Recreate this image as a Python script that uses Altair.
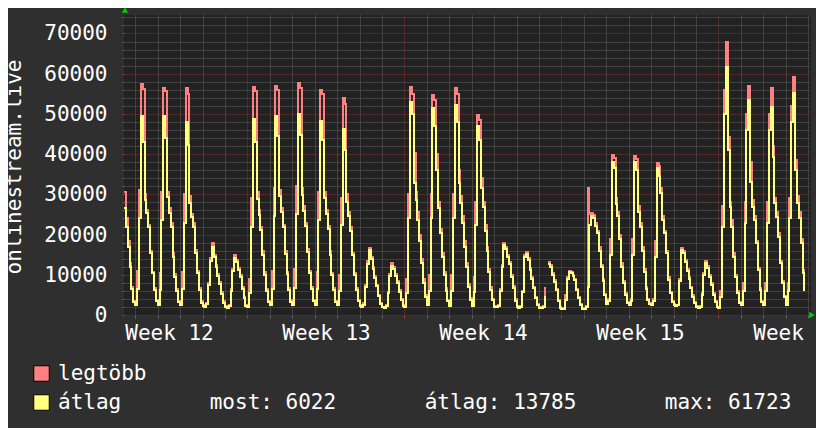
import altair as alt
import pandas as pd

FONT = "DejaVu Sans Mono"

# ---------------- data ----------------
series_names = ["legtöbb", "átlag"]
series_colors = ["#ff8080", "#ffff80"]

# 2-hour samples; hours counted from Monday 00:00 of week 12; first sample Tue 12:00
first_hour = 36
step_hours = 2

legtobb_w12 = [
    30700, 24000, 18500, 13000, 7000, 3600,
    2800, 11000, 31000, 57400, 56200, 30000, 26000, 22500, 16000, 10800, 6800, 3800,
    2700, 10500, 30500, 56400, 55600, 30500, 26500, 22800, 15500, 10300, 6500, 3600,
    2700, 10800, 30000, 56400, 55000, 29500, 25200, 22800, 16200, 11000, 6600, 3500,
    2600, 2300, 3000, 8000, 14200, 17800, 15000, 12500, 10200, 8200, 5600, 3400,
    2300, 2000, 2600, 6500, 11500, 14900, 13800, 11800, 10000, 7000, 4500, 2600,
]
atlag_w12 = [
    26600, 22000, 17000, 12000, 6500, 3200,
    2500, 6500, 24000, 49400, 43100, 28600, 25400, 22000, 15400, 10400, 6200, 3500,
    2400, 6300, 23500, 49500, 44000, 29400, 25400, 21900, 14500, 9400, 6000, 3200,
    2400, 6400, 23000, 48000, 42300, 27800, 24400, 22000, 15400, 10400, 6200, 3000,
    2300, 2100, 2700, 7400, 13500, 17000, 14400, 11900, 9700, 7800, 5200, 3100,
    2000, 1800, 2300, 6000, 11000, 14200, 13200, 11200, 9500, 6500, 4200, 2300,
]
legtobb_w13 = [
    2300, 9000, 29000, 56600, 55800, 30500, 26000, 22000, 15800, 10600, 6500, 3600,
    2800, 11000, 31500, 56900, 56000, 31000, 26500, 22500, 16000, 10800, 6800, 3700,
    2700, 11500, 32000, 57800, 56500, 31500, 27000, 23000, 16500, 11000, 7000, 3800,
    2800, 10800, 30500, 56000, 55000, 30500, 26000, 22200, 15800, 10500, 6600, 3600,
    2700, 10000, 29000, 53900, 52500, 30000, 25500, 21800, 15500, 10500, 6800, 3800,
    2500, 2200, 2900, 7500, 13500, 16700, 14500, 12000, 9800, 7500, 5000, 3000,
    2100, 1900, 2400, 5800, 10200, 12900, 12000, 10200, 8400, 6200, 4000, 2400,
]
atlag_w13 = [
    2000, 5500, 22000, 48700, 43000, 28800, 24800, 21200, 15000, 10000, 6000, 3200,
    2500, 6500, 24500, 49500, 44500, 29500, 25500, 21800, 15200, 10200, 6300, 3300,
    2400, 6800, 25000, 50000, 44800, 29800, 25800, 22200, 15600, 10500, 6500, 3400,
    2500, 6400, 23500, 48200, 43500, 29000, 25000, 21500, 15000, 10000, 6200, 3200,
    2400, 6000, 22500, 46300, 41000, 28200, 24500, 21000, 14800, 10000, 6300, 3400,
    2200, 2000, 2600, 7000, 12800, 16200, 14000, 11500, 9300, 7100, 4700, 2700,
    1900, 1700, 2200, 5400, 9700, 12200, 11400, 9700, 8000, 5800, 3700, 2200,
]
legtobb_w14 = [
    2200, 9000, 30000, 56600, 55000, 40300, 30500, 25500, 20000, 14000, 9000, 5000,
    2600, 10000, 30000, 54700, 53500, 40000, 28000, 21500, 15500, 10800, 6600, 3800,
    2500, 10000, 30000, 56400, 55000, 36000, 29500, 24500, 18500, 13000, 7800, 4200,
    2500, 9500, 28000, 49700, 48500, 34000, 28000, 22500, 17000, 11500, 7000, 4000,
    2300, 2100, 2400, 6500, 12500, 18000, 17000, 15000, 13200, 10000, 7200, 4000,
    2300, 2000, 2300, 6000, 15000, 15700, 14200, 11800, 9500, 7000, 4600, 2800,
    2000, 2000, 2200, 7000, None, 13300, 12500, 10400, 8600, 6500, 3800, 2000,
]
atlag_w14 = [
    2000, 5500, 24000, 53000, 50000, 32800, 28600, 23500, 18500, 13000, 8000, 4500,
    2400, 6000, 24000, 51400, 47000, 36000, 26500, 20500, 14500, 10000, 6000, 3400,
    2300, 6000, 24000, 52200, 48000, 32800, 27800, 22900, 17000, 12000, 7000, 3800,
    2300, 5800, 22500, 47000, 43500, 31500, 26900, 21000, 15800, 10800, 6300, 3700,
    2000, 1900, 2200, 6000, 12000, 17400, 16400, 14400, 12700, 9500, 6800, 3600,
    2000, 1800, 2100, 5600, 14500, 15200, 13700, 11300, 9000, 6600, 4300, 2500,
    1800, 1800, 2000, 4800, None, 12800, 12000, 10000, 8200, 6100, 3500, 1800,
]
legtobb_w15 = [
    1800, 1700, 5000, 9500, 11000, 10800, 10000, 9000, 6500, 4600, 2700, 1800,
    1800, 2200, 31600, 25000, 25400, 24800, 23000, 21000, 16800, 12500, 9000, 5300,
    3000, 4000, 19000, 39800, 39000, 29000, 25500, 20000, 13000, 8500, 5500, 3300,
    2600, 4000, 19000, 39600, 38800, 27000, 23000, 17000, 11500, 7000, 4000, 3000,
    2700, 4000, 18500, 37900, 37000, 31500, 24500, 21000, 16000, 9500, 5800, 3500,
    2700, 2400, 2600, 9000, 16600, 16000, 13700, 11500, 9500, 7000, 5000, 3200,
    2200, 2000, 2200, 5500, 10500, 13500, 12200, 10000, 8000, 5500, 3500, 2100,
]
atlag_w15 = [
    1600, 1500, 3800, 9000, 10600, 10400, 9600, 8600, 6100, 4300, 2500, 1600,
    1600, 2000, 7000, 22400, 24600, 24000, 22200, 20400, 16000, 12000, 8500, 5000,
    2700, 3500, 15000, 38100, 36500, 27500, 24500, 19000, 12000, 8000, 5000, 3000,
    2400, 3400, 15000, 38100, 36000, 25500, 22000, 16000, 10800, 6500, 3700, 2700,
    2500, 3400, 14500, 36500, 34500, 30300, 23600, 20400, 15400, 8700, 5400, 3200,
    2400, 2200, 2400, 8500, 16200, 15500, 13200, 11000, 9000, 6600, 4600, 2900,
    2000, 1800, 2000, 5000, 10000, 12900, 11700, 9500, 7500, 5000, 3200, 1900,
]
legtobb_w16 = [
    2000, 6000, 27000, 56000, 68000, 44300, 28000, 23500, 15500, 10000, 6000, 3300,
    2800, 8000, 28000, 50000, 56900, 38000, 28500, 24500, 18500, 11800, 6800, 3500,
    2600, 8000, 28000, 50000, 56400, 42000, 29000, 25500, 20500, 13500, 8500, 4800,
    2600, 8000, 29000, 52000, 59300, 38500, 29500, 25500, 19000, 11200, 6600,
]
atlag_w16 = [
    1800, 4500, 22000, 50000, 61723, 41000, 26900, 22000, 14500, 9500, 5400, 3000,
    2600, 6000, 23000, 46000, 53500, 33000, 26900, 23600, 17800, 11200, 6200, 3200,
    2400, 6000, 23000, 46000, 51800, 39400, 27800, 24400, 19500, 12900, 8000, 4500,
    2400, 6000, 24000, 48000, 55100, 36000, 27800, 24000, 17900, 10400, 6022,
]

stat_labels = ["most", "átlag", "max"]
stat_values = [6022, 13785, 61723]

week_labels = ["Week 12", "Week 13", "Week 14", "Week 15", "Week 16"]
week_label_hours = [84, 252, 420, 588, 756]

x_domain = [36, 770]
y_domain = [0, 74600]

# ---------------- table ----------------
legtobb = legtobb_w12 + legtobb_w13 + legtobb_w14 + legtobb_w15 + legtobb_w16
atlag = atlag_w12 + atlag_w13 + atlag_w14 + atlag_w15 + atlag_w16
hours = [first_hour + step_hours * i for i in range(len(legtobb))]

rows = []
for name, vals in zip(series_names, [legtobb, atlag]):
    seg = 0
    for h, v in zip(hours, vals):
        if v is None:
            seg += 1
            continue
        rows.append({"hour": h, "value": v, "series": name, "seg": seg})
df = pd.DataFrame(rows)

# ---------------- styling ----------------
BG = "#2f2f2f"
PLOT_BG = "#222222"
MINOR = "#5e5e5e"
MAJOR = "#803333"
TXT = "#ffffff"

day_lines = list(range(48, x_domain[1] + 1, 24))
x_values = sorted(day_lines + week_label_hours)
x_label_expr = " : ".join(
    f"datum.value === {h} ? '{lab}'" for h, lab in zip(week_label_hours, week_labels)
) + " : ''"

y_values = list(range(0, 74001, 2000))

x_axis = alt.Axis(
    values=x_values, tickCount=500,
    labelExpr=x_label_expr,
    labelFlush=False, labelOverlap=False, labelBound=False,
    labelFont=FONT, labelFontSize=21, labelColor=TXT, labelPadding=4,
    labelAlign="center", labelBaseline="top",
    domain=False, title=None,
    ticks=True, tickSize=3, tickWidth=1,
    tickColor={"condition": {"test": "datum.value % 168 === 0", "value": "#a83c3c"}, "value": "#646464"},
    tickOpacity={"condition": {"test": "datum.value % 168 === 84", "value": 0}, "value": 1},
    grid=True, gridDash=[1, 1], gridWidth=1,
    gridColor={"condition": {"test": "datum.value % 168 === 0", "value": MAJOR}, "value": MINOR},
    gridOpacity={"condition": {"test": "datum.value % 168 === 84", "value": 0}, "value": 1},
)

y_axis = alt.Axis(
    values=y_values, tickCount=500, format="d",
    labelExpr="datum.value % 10000 === 0 ? datum.label : ''",
    labelOverlap=False, labelBound=False, labelFlush=False,
    labelFont=FONT, labelFontSize=21, labelColor=TXT, labelPadding=15,
    domain=False,
    ticks=True, tickSize=2, tickWidth=1,
    tickColor={"condition": {"test": "datum.value % 10000 === 0", "value": "#a83c3c"}, "value": "#646464"},
    grid=True, gridDash=[1, 1], gridWidth=1,
    gridColor={"condition": {"test": "datum.value % 10000 === 0", "value": MAJOR}, "value": MINOR},
    title="onlinestream.live", titleFont=FONT, titleFontSize=21, titleFontWeight="normal",
    titleColor=TXT, titleAngle=270, titleAlign="center", titleBaseline="middle",
    titleX=-109.5, titleY=151.5,
)

xs = alt.Scale(domain=x_domain, nice=False, zero=False, round=True)
ys = alt.Scale(domain=y_domain, nice=False, round=True)
legend_scale = alt.Scale(domain=series_names, range=series_colors)

base = alt.Chart(df)
red = base.transform_filter(alt.datum.series == series_names[0]).mark_line(
    interpolate="step-after", strokeWidth=2, color=series_colors[0]
).encode(
    x=alt.X("hour:Q", scale=xs, axis=x_axis),
    y=alt.Y("value:Q", scale=ys, axis=y_axis),
    detail="seg:N",
)
yellow = base.transform_filter(alt.datum.series == series_names[1]).mark_line(
    interpolate="step-after", strokeWidth=2, color=series_colors[1]
).encode(
    x=alt.X("hour:Q", scale=xs),
    y=alt.Y("value:Q", scale=ys),
    detail="seg:N",
)

# legend (squares + labels, stats appended to the average row)
NBSP = "\u00a0"
gap = NBSP * 7
stats_text = gap.join(f"{l}:{NBSP}{v}" for l, v in zip(stat_labels, stat_values))
legend_label_expr = (
    f"datum.label === '{series_names[1]}' ? '{series_names[1]}{gap}{stats_text}' : datum.label"
)
legend_df = pd.DataFrame({"series": series_names, "hour": [x_domain[0]] * 2, "value": [0] * 2})
legend_layer = alt.Chart(legend_df).mark_square(opacity=0).encode(
    x=alt.X("hour:Q", scale=xs),
    y=alt.Y("value:Q", scale=ys),
    fill=alt.Fill(
        "series:N", scale=legend_scale,
        legend=alt.Legend(
            orient="none", legendX=-93, legendY=348, title=None, direction="vertical",
            symbolType="square", symbolSize=240, symbolStrokeColor="#000000",
            symbolStrokeWidth=1, symbolOpacity=1,
            labelFont=FONT, labelFontSize=21, labelColor=TXT, labelOffset=6,
            labelLimit=2000, rowPadding=7, padding=0, labelExpr=legend_label_expr,
        ),
    ),
)

# axis arrows (rrdtool style)
arrow_up_df = pd.DataFrame({"hour": [x_domain[0] + 1], "value": [y_domain[1] * 1.017]})
arrow_right_df = pd.DataFrame({"hour": [x_domain[1] + 2], "value": [y_domain[0]]})
arrow_up = alt.Chart(arrow_up_df).mark_point(
    shape="triangle-up", filled=True, size=40, color="#00cc00", opacity=1
).encode(x=alt.X("hour:Q", scale=xs), y=alt.Y("value:Q", scale=ys))
arrow_right = alt.Chart(arrow_right_df).mark_point(
    shape="triangle-right", filled=True, size=40, color="#00cc00", opacity=1
).encode(x=alt.X("hour:Q", scale=xs), y=alt.Y("value:Q", scale=ys))

chart = alt.layer(red, yellow, legend_layer, arrow_up, arrow_right).properties(
    width=686,
    height=300,
    padding={"left": 116, "top": 7, "right": 6, "bottom": 113},
    autosize=alt.AutoSizeParams(type="none"),
    background=BG,
    view=alt.ViewBackground(fill=PLOT_BG, stroke=PLOT_BG, strokeWidth=1),
    usermeta={"embedOptions": {"defaultStyle": "html, body { background: #2f2f2f; }"}},
).configure(
    font=FONT,
    view=alt.ViewConfig(fill=PLOT_BG, stroke=PLOT_BG, strokeWidth=1),
    axis=alt.AxisConfig(domain=False),
)

chart.save("out.html", embed_options={"renderer": "svg", "actions": False})
